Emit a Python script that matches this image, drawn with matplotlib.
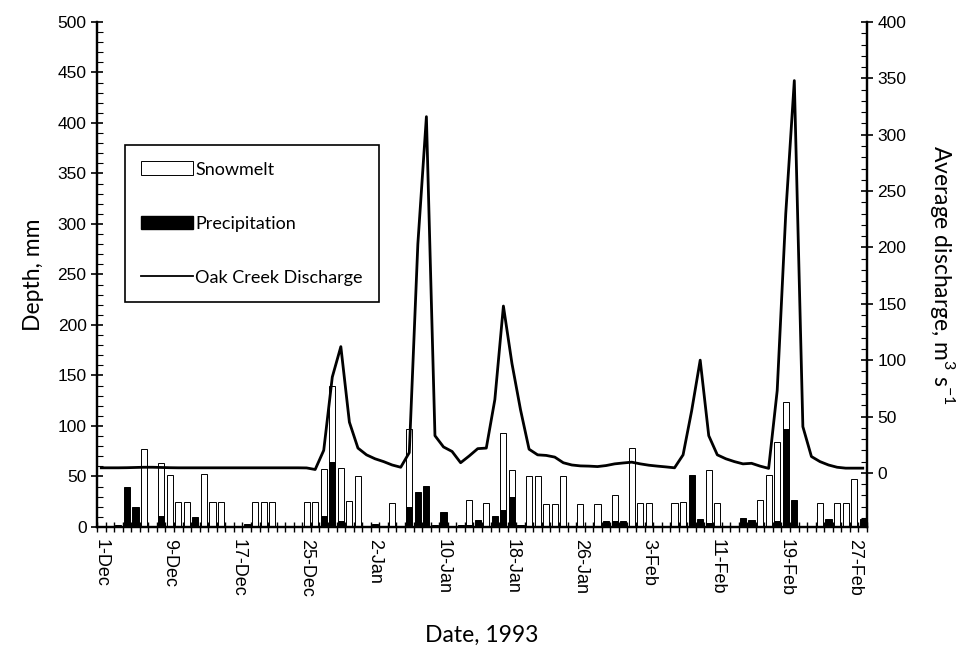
import numpy as np
import matplotlib
matplotlib.use("Agg")
import matplotlib.pyplot as plt
from matplotlib.patches import Patch
from matplotlib.lines import Line2D

# days since 1-Dec-1992 (0..89 -> 28-Feb-1993)
days = np.arange(90)

# snowmelt depth, mm (day index: value)
snowmelt = {5: 77, 7: 63, 8: 51, 9: 25, 10: 25, 12: 52, 13: 25, 14: 25,
            18: 25, 19: 25, 20: 25, 24: 25, 25: 25, 26: 57, 27: 140, 28: 58,
            29: 26, 30: 50, 34: 24, 36: 97, 43: 27, 45: 24, 47: 93, 48: 56,
            50: 50, 51: 50, 52: 23, 53: 23, 54: 50, 56: 23, 58: 23, 60: 32,
            62: 78, 63: 24, 64: 24, 67: 24, 68: 25, 71: 56, 72: 24, 77: 27,
            78: 51, 79: 84, 80: 124, 84: 24, 86: 24, 87: 24, 88: 48}

# precipitation depth, mm
precip = {2: 2, 3: 40, 4: 20, 7: 11, 11: 10, 17: 3, 26: 11, 27: 64, 28: 6,
          32: 3, 33: 1, 36: 20, 37: 35, 38: 41, 39: 2, 40: 15, 41: 1, 42: 2,
          43: 2, 44: 7, 46: 11, 47: 17, 48: 30, 49: 2, 59: 6, 60: 6, 61: 6,
          62: 1, 69: 51, 70: 8, 71: 4, 75: 9, 76: 7, 77: 1, 79: 6, 80: 97,
          81: 27, 82: 1, 85: 8, 89: 8}

# Oak Creek average daily discharge, m3/s
discharge = [4.5, 4.5, 4.5, 4.6, 4.8, 5.0, 5.0, 4.8, 4.6, 4.5,
             4.5, 4.5, 4.5, 4.5, 4.5, 4.5, 4.5, 4.5, 4.5, 4.5,
             4.5, 4.5, 4.5, 4.5, 4.4, 3.0, 20, 85, 112, 45,
             22, 16, 12.5, 10, 7, 5, 18, 203, 316, 33,
             23, 19, 9, 15, 21.5, 22, 65, 148, 97, 56,
             21, 16, 15.5, 14, 9, 7, 6.2, 6, 5.6, 6.5,
             8, 8.8, 9.5, 8, 6.8, 6, 5.3, 4.5, 16, 55,
             100, 33, 16, 12.5, 10, 8, 8.5, 6, 4, 73,
             230, 348, 41, 14.5, 10, 7, 5, 4.2, 4.2, 4.2]

tick_days = [0, 8, 16, 24, 32, 40, 48, 56, 64, 72, 80, 88]
tick_labels = ['1-Dec', '9-Dec', '17-Dec', '25-Dec', '2-Jan', '10-Jan',
               '18-Jan', '26-Jan', '3-Feb', '11-Feb', '19-Feb', '27-Feb']

snow = np.array([snowmelt.get(d, 0) for d in days])
prec = np.array([precip.get(d, 0) for d in days])

label_font = 'Lato'
tick_font = 'Liberation Sans'

fig = plt.figure(figsize=(9.68, 6.54), dpi=100)
ax = fig.add_axes([0.1002, 0.1942, 0.7955, 0.7722])
ax2 = ax.twinx()

w = 0.72
ax.bar(days, snow, width=w, color='white', edgecolor='black', linewidth=0.7, zorder=2)
ax.bar(days, prec, width=w, color='black', edgecolor='black', linewidth=0.7, zorder=3)
ax2.plot(days, discharge, color='black', lw=2.0, solid_joinstyle='round')

ax.set_xlim(-0.5, 89.5)
ax.set_ylim(0, 500)
ax2.set_ylim(-48, 400)

# left axis
ax.set_yticks(np.arange(0, 501, 50))
ax.set_yticks(np.arange(0, 501, 10), minor=True)
ax.tick_params(axis='y', which='major', direction='inout', length=8, width=1.2,
               labelsize=12.5)
ax.tick_params(axis='y', which='minor', direction='in', length=4, width=0.8)

# right axis
ax2.set_yticks(np.arange(0, 401, 50))
ax2.set_yticks(np.arange(-40, 401, 10), minor=True)
ax2.tick_params(axis='y', which='major', direction='inout', length=8, width=1.2,
                labelsize=12.5)
ax2.tick_params(axis='y', which='minor', direction='in', length=4, width=0.8)

# x axis: tick marks between days, labels on days
ax.set_xticks(np.arange(-0.5, 90, 1.0), minor=True)
ax.set_xticks(tick_days)
ax.set_xticklabels(tick_labels, rotation=-90, fontsize=13)
ax.tick_params(axis='x', which='major', length=0, pad=9)
ax.tick_params(axis='x', which='minor', direction='inout', length=7, width=1.0)

for lab in ax.get_xticklabels() + ax.get_yticklabels() + ax2.get_yticklabels():
    lab.set_family(tick_font)

for a in (ax, ax2):
    a.spines['top'].set_visible(False)
    for s in ('left', 'right', 'bottom'):
        a.spines[s].set_linewidth(1.6)

ax.set_ylabel('Depth, mm', fontsize=16.5, family=label_font, labelpad=10)
ax.set_xlabel('Date, 1993', fontsize=16.5, family=label_font, labelpad=20)
ax2.set_ylabel(r'Average discharge, m$^{\mathregular{3}}$ s$^{\mathregular{-1}}$',
               fontsize=16.5, family=label_font, rotation=-90, labelpad=36)

handles = [Patch(facecolor='white', edgecolor='black', linewidth=0.7),
           Patch(facecolor='black', edgecolor='black'),
           Line2D([], [], color='black', lw=1.3)]
leg = ax2.legend(handles, ['Snowmelt', 'Precipitation', 'Oak Creek Discharge'],
                 loc='upper left', bbox_to_anchor=(0.036, 0.756), borderaxespad=0,
                 frameon=True, fancybox=False, edgecolor='black', framealpha=1,
                 prop={'family': label_font, 'size': 13},
                 handlelength=2.9, handleheight=0.8, handletextpad=0.1,
                 labelspacing=2.1, borderpad=0.9)
leg.get_frame().set_linewidth(1.2)

fig.savefig('out.png', dpi=100)
